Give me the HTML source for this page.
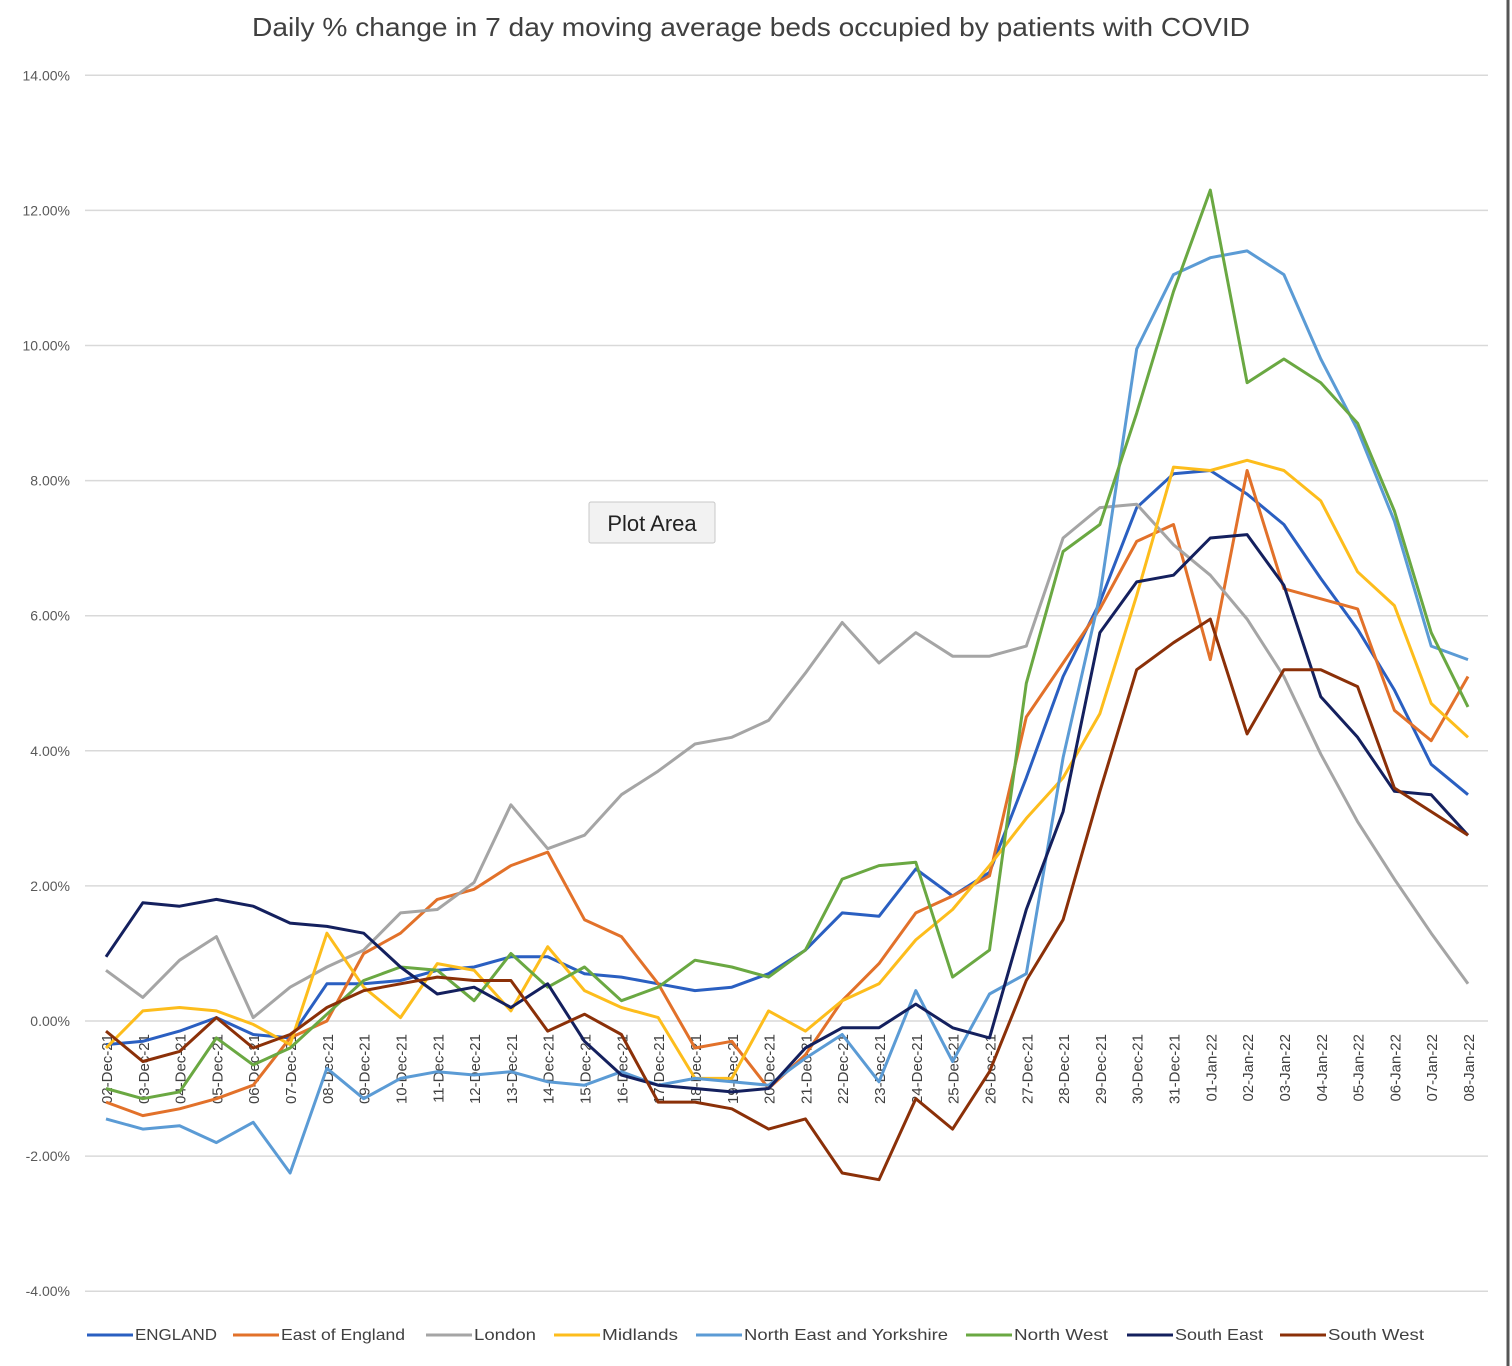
<!DOCTYPE html>
<html><head><meta charset="utf-8">
<style>
html,body{margin:0;padding:0;background:#fff;}
svg{display:block;font-family:"Liberation Sans",sans-serif;}
</style></head>
<body>
<svg id="chart" width="1512" height="1366" viewBox="0 0 1512 1366">
<rect x="0" y="0" width="1512" height="1366" fill="#fff"/>
<line x1="1508" y1="0" x2="1508" y2="1366" stroke="#555" stroke-width="3"/>
<text x="252" y="36" textLength="998" lengthAdjust="spacingAndGlyphs" font-size="26" fill="#404040">Daily % change in 7 day moving average beds occupied by patients with COVID</text>
<g id="grid"></g>
<g id="ylabels"></g>
<g id="xlabels"></g>
<g id="series"></g>
<g id="legend"></g>
<g>
<rect x="589" y="502" width="126" height="41" fill="#f2f2f2" stroke="#c8c8c8" rx="2"/>
<text x="652" y="531" text-anchor="middle" font-size="22" fill="#222">Plot Area</text>
</g>
</svg>
<script>
const categories = ["02-Dec-21","03-Dec-21","04-Dec-21","05-Dec-21","06-Dec-21","07-Dec-21","08-Dec-21","09-Dec-21","10-Dec-21","11-Dec-21","12-Dec-21","13-Dec-21","14-Dec-21","15-Dec-21","16-Dec-21","17-Dec-21","18-Dec-21","19-Dec-21","20-Dec-21","21-Dec-21","22-Dec-21","23-Dec-21","24-Dec-21","25-Dec-21","26-Dec-21","27-Dec-21","28-Dec-21","29-Dec-21","30-Dec-21","31-Dec-21","01-Jan-22","02-Jan-22","03-Jan-22","04-Jan-22","05-Jan-22","06-Jan-22","07-Jan-22","08-Jan-22"];
const yTicks = [14,12,10,8,6,4,2,0,-2,-4];
const seriesNames = ["ENGLAND","East of England","London","Midlands","North East and Yorkshire","North West","South East","South West"];
const england = [-0.35,-0.3,-0.15,0.05,-0.2,-0.25,0.55,0.55,0.6,0.75,0.8,0.95,0.95,0.7,0.65,0.55,0.45,0.5,0.7,1.05,1.6,1.55,2.25,1.85,2.2,3.6,5.1,6.2,7.6,8.1,8.15,7.8,7.35,6.55,5.8,4.9,3.8,3.35];
const eastOfEngland = [-1.2,-1.4,-1.3,-1.15,-0.95,-0.25,0.0,1.0,1.3,1.8,1.95,2.3,2.5,1.5,1.25,0.55,-0.4,-0.3,-1.0,-0.5,0.3,0.85,1.6,1.85,2.15,4.5,5.3,6.1,7.1,7.35,5.35,8.15,6.4,6.25,6.1,4.6,4.15,5.1];
const london = [0.75,0.35,0.9,1.25,0.05,0.5,0.8,1.05,1.6,1.65,2.05,3.2,2.55,2.75,3.35,3.7,4.1,4.2,4.45,5.15,5.9,5.3,5.75,5.4,5.4,5.55,7.15,7.6,7.65,7.05,6.6,5.95,5.1,3.95,2.95,2.1,1.3,0.55];
const midlands = [-0.4,0.15,0.2,0.15,-0.05,-0.35,1.3,0.5,0.05,0.85,0.75,0.15,1.1,0.45,0.2,0.05,-0.85,-0.85,0.15,-0.15,0.3,0.55,1.2,1.65,2.3,3.0,3.6,4.55,6.3,8.2,8.15,8.3,8.15,7.7,6.65,6.15,4.7,4.2];
const northEastYorks = [-1.45,-1.6,-1.55,-1.8,-1.5,-2.25,-0.7,-1.15,-0.85,-0.75,-0.8,-0.75,-0.9,-0.95,-0.75,-0.95,-0.85,-0.9,-0.95,-0.55,-0.2,-0.9,0.45,-0.6,0.4,0.7,3.9,6.3,9.95,11.05,11.3,11.4,11.05,9.8,8.75,7.4,5.55,5.35];
const northWest = [-1.0,-1.15,-1.05,-0.25,-0.65,-0.4,0.1,0.6,0.8,0.75,0.3,1.0,0.5,0.8,0.3,0.5,0.9,0.8,0.65,1.05,2.1,2.3,2.35,0.65,1.05,5.0,6.95,7.35,9.0,10.8,12.3,9.45,9.8,9.45,8.85,7.55,5.75,4.65];
const southEast = [0.95,1.75,1.7,1.8,1.7,1.45,1.4,1.3,0.8,0.4,0.5,0.2,0.55,-0.3,-0.8,-0.95,-1.0,-1.05,-1.0,-0.4,-0.1,-0.1,0.25,-0.1,-0.25,1.65,3.1,5.75,6.5,6.6,7.15,7.2,6.45,4.8,4.2,3.4,3.35,2.75];
const southWest = [-0.15,-0.6,-0.45,0.05,-0.4,-0.2,0.2,0.45,0.55,0.65,0.6,0.6,-0.15,0.1,-0.2,-1.2,-1.2,-1.3,-1.6,-1.45,-2.25,-2.35,-1.15,-1.6,-0.75,0.6,1.5,3.4,5.2,5.6,5.95,4.25,5.2,5.2,4.95,3.45,3.1,2.75];
const seriesColors = ["#2a5fc1","#e2712a","#a5a5a5","#fdbd1c","#5b9bd5","#6aa842","#14205e","#8b3008"];

const NS="http://www.w3.org/2000/svg";
const X0=106, X1=1468, Y0=1021, PX_PER=67.55;
function xs(i){return X0+(X1-X0)*i/(categories.length-1);}
function ys(v){return Y0-v*PX_PER;}
function mk(tag,attrs,parent){const e=document.createElementNS(NS,tag);for(const k in attrs)e.setAttribute(k,attrs[k]);parent.appendChild(e);return e;}

const grid=document.getElementById('grid'), yl=document.getElementById('ylabels'), xl=document.getElementById('xlabels');
yTicks.forEach(t=>{
  const l=mk('line',{x1:85,x2:1488,y1:ys(t),y2:ys(t),stroke:'#d9d9d9','stroke-width':1.5},grid);
  
  
  const tx=mk('text',{x:70,y:ys(t)+5,'text-anchor':'end','font-size':14,fill:'#595959'},yl);
  tx.textContent=t.toFixed(2)+'%';
  
  
});
categories.forEach((c,i)=>{
  const x=xs(i)+6, y=1034;
  const tx=mk('text',{x:x,y:y,'text-anchor':'end','font-size':15,fill:'#404040',transform:`rotate(-90 ${x} ${y})`},xl);
  tx.textContent=c;
  
  
});
const all=[england,eastOfEngland,london,midlands,northEastYorks,northWest,southEast,southWest];
const sg=document.getElementById('series');
all.forEach((arr,s)=>{
  const d=arr.map((v,i)=>(i?'L':'M')+xs(i).toFixed(1)+','+ys(v).toFixed(1)).join(' ');
  const p=mk('path',{d:d,fill:'none',stroke:seriesColors[s],'stroke-width':3,'stroke-linejoin':'round'},sg);
  
  
});
const lg=document.getElementById('legend');
const legendX=[87,233,426,554,696,966,1127,1280];
const legendW=[82,124,62,76,204,94,88,96];
seriesNames.forEach((n,s)=>{
  const g=mk('g',{},lg);
  
  
  mk('line',{x1:legendX[s],x2:legendX[s]+46,y1:1335,y2:1335,stroke:seriesColors[s],'stroke-width':3},g);
  const t=mk('text',{x:legendX[s]+48,y:1340,'font-size':16,fill:'#404040',textLength:legendW[s],lengthAdjust:'spacingAndGlyphs'},g);
  t.textContent=n;
});
</script>
</body></html>
